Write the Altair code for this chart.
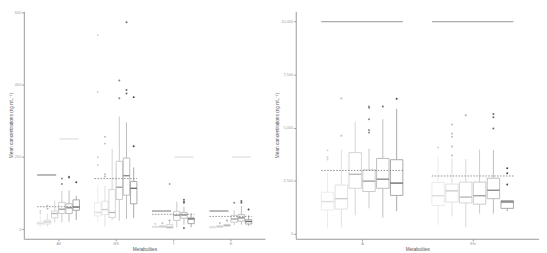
import altair as alt
import pandas as pd

groups = ["1", "2", "3", "4", "5", "6"]

# ---------------- left panel ----------------
left_metabolites = ["All", "BS", "T", "E"]
left_lo  = [5, 7, 18, 18, 20, 25,    20, 7, 25, 23, 28, 31,    3, 3, 2, 5, 12, 5,     2, 3, 6, 11, 12, 9]
left_q1  = [12, 14, 31, 43, 43, 52,  36, 40, 32, 82, 94, 70,   5, 5, 3, 24, 30, 15,   3, 5, 9, 19, 22, 14]
left_med = [16, 20, 43, 55, 59, 61,  46, 54, 46, 116, 148, 113, 6, 7, 5, 38, 39, 28,  5, 7, 10, 28, 31, 21]
left_q3  = [20, 25, 50, 74, 70, 81,  73, 77, 110, 188, 197, 132, 8, 9, 12, 49, 46, 31, 7, 9, 12, 38, 40, 26]
left_hi  = [34, 43, 79, 106, 107, 92, 122, 120, 222, 312, 296, 171, 10, 11, 20, 76, 62, 42, 9, 12, 15, 52, 64, 38]
left_outliers = [
    [43, 50], [56, 65], [], [125, 140], [143, 145], [130],
    [178, 199, 380, 538], [146, 152, 237, 256], [], [363, 412], [376, 386, 574], [230, 366],
    [15], [16], [24, 125], [], [3, 73, 76, 81], [],
    [], [17], [24], [73], [73, 78], [54],
]
# reference lines per metabolite (None = not drawn)
left_dark = [150, None, 50, 50]
left_light = [250, None, 200, 200]
left_dash = [62, 140, 41, 35]
left_ticks = [0, 200, 400, 600]
left_domain = [-27, 604]

# ---------------- right panel ----------------
right_metabolites = ["A", "Ele"]
right_lo  = [243, 303, 872, 1193, 761, 1069,     413, 807, 303, 945, 945, 1055]
right_q1  = [1115, 1160, 2138, 1986, 2138, 1803, 1330, 1495, 1450, 1390, 1651, 1193]
right_med = [1514, 1651, 2798, 2477, 2569, 2385, 1789, 2018, 1725, 1789, 2046, 1495]
right_q3  = [1954, 2294, 3821, 3009, 3546, 3486, 2413, 2339, 2431, 2431, 2615, 1560]
right_hi  = [2872, 3972, 5275, 4005, 5394, 5885, 3624, 3546, 3514, 3959, 3945, 1560]
right_outliers = [
    [3500, 3606, 3927], [4615, 6376], [], [4771, 4890, 5394, 5931, 5991], [5991], [6358],
    [4064], [3683, 4110, 4569, 4725, 5151], [5578], [], [4954, 5486, 5642], [2321, 2844, 3087],
]
right_top = [10000, 10000]
right_dash = [2980, 2720]
right_ticks = [0, 2500, 5000, 7500, 10000]
right_domain = [-240, 10480]

box_colors = ["#ececec", "#e2e2e2", "#d6d6d6", "#cacaca", "#bdbdbd", "#a9a9a9"]
med_colors = ["#dddddd", "#cdcdcd", "#b9b9b9", "#a2a2a2", "#8c8c8c", "#6e6e6e"]
out_colors = ["#d2d2d2", "#bcbcbc", "#a6a6a6", "#8a8a8a", "#6a6a6a", "#474747"]

YTITLE = "Mean concentrations (ng mL\u207b\u00b9)"
H = 230

# dodge layout in category units: 8 slots per metabolite, 6 boxes of 0.9 slot
SLOTS = 8
BOX_W = 0.9
OUTER = 1.85          # from panel edge to first box
SPAN = 5 + BOX_W      # first box start to last box end


def make_panel(mets, lo, q1, med, q3, hi, outliers, refs, lines, ticks, domain, width):
    rows, orows, lrows = [], [], []
    k = 0
    for i, m in enumerate(mets):
        start = OUTER + SLOTS * i
        for j, g in enumerate(groups):
            x0 = start + j
            rows.append(dict(grp=g, x0=x0, x1=x0 + BOX_W, xc=x0 + BOX_W / 2,
                             lo=lo[k], q1=q1[k], med=med[k], q3=q3[k], hi=hi[k]))
            for v in outliers[k]:
                orows.append(dict(grp=g, xc=x0 + BOX_W / 2, val=v))
            k += 1
        for name, (f0, f1) in lines.items():
            v = refs[name][i]
            if v is not None:
                lrows.append(dict(kind=name, a=start + f0 * SPAN, b=start + f1 * SPAN, val=v))
    df = pd.DataFrame(rows)
    dfo = pd.DataFrame(orows)
    dfl = pd.DataFrame(lrows)

    total = OUTER * 2 + SLOTS * (len(mets) - 1) + SPAN
    centers = [OUTER + SLOTS * i + SPAN / 2 for i in range(len(mets))]
    names = "[" + ",".join(f"'{m}'" for m in mets) + "]"
    xscale = alt.Scale(domain=[0, total], nice=False, zero=False)
    yscale = alt.Scale(domain=domain, nice=False, zero=False)
    xaxis = alt.Axis(title="Metabolites", labelAngle=0, labelPadding=1, titlePadding=1,
                     values=centers,
                     labelExpr=f"{names}[round((datum.value - {centers[0]}) / {SLOTS})]")
    yaxis = alt.Axis(title=YTITLE, values=ticks, labelPadding=1, titlePadding=1)

    def X(f):
        return alt.X(f, scale=xscale, axis=xaxis)

    def Y(f):
        return alt.Y(f, scale=yscale, axis=yaxis)

    def col(rng):
        return alt.Color("grp:N", sort=groups, scale=alt.Scale(domain=groups, range=rng), legend=None)

    base = alt.Chart(df)
    whisk = base.mark_rule(strokeWidth=1).encode(
        x=X("xc:Q"), y=Y("lo:Q"), y2="hi:Q", color=col(box_colors))
    box = base.mark_bar(fill="white", strokeWidth=1).encode(
        x=X("x0:Q"), x2="x1:Q", y=Y("q1:Q"), y2="q3:Q",
        stroke=alt.Stroke("grp:N", sort=groups, scale=alt.Scale(domain=groups, range=box_colors), legend=None))
    medl = base.mark_rule(strokeWidth=1.4).encode(
        x=X("x0:Q"), x2="x1:Q", y=Y("med:Q"), color=col(med_colors))
    outl = alt.Chart(dfo).mark_circle(size=4, opacity=1).encode(
        x=X("xc:Q"), y=Y("val:Q"), color=col(out_colors))

    layers = [whisk, box, medl, outl]
    for name in lines:
        color, width_, dash = styles[name]
        mk = dict(color=color, strokeWidth=width_)
        if dash:
            mk["strokeDash"] = dash
        layers.append(
            alt.Chart(dfl).transform_filter(alt.datum.kind == name).mark_rule(**mk).encode(
                x=X("a:Q"), x2="b:Q", y=Y("val:Q")))
    return alt.layer(*layers).resolve_scale(color="independent").properties(width=width, height=H)


styles = {
    "dark": ("#8a8a8a", 1.2, None),
    "light": ("#e4e4e4", 1.5, None),
    "dash": ("#858585", 0.9, [1.5, 1.5]),
    "top": ("#ababab", 1.3, None),
}

left = make_panel(
    left_metabolites, left_lo, left_q1, left_med, left_q3, left_hi, left_outliers,
    {"dark": left_dark, "light": left_light, "dash": left_dash},
    {"dark": (0, 0.45), "light": (0.53, 0.98), "dash": (0, 1)},
    left_ticks, left_domain, 244)

right = make_panel(
    right_metabolites, right_lo, right_q1, right_med, right_q3, right_hi, right_outliers,
    {"top": right_top, "dash": right_dash},
    {"top": (0, 1), "dash": (0, 1)},
    right_ticks, right_domain, 246)

chart = alt.hconcat(left, right, spacing=9).properties(
    padding={"left": 0, "top": 1, "right": 0, "bottom": 0}
).configure_view(stroke=None).configure_axis(
    grid=False,
    domainColor="#9a9a9a", domainWidth=1,
    tickColor="#9a9a9a", tickSize=2, tickWidth=1,
    labelColor="#9d9d9d", labelFontSize=4, labelFont="Liberation Sans",
    titleColor="#555555", titleFontSize=4.8, titleFont="Liberation Sans", titleFontWeight="normal",
)

chart.save("out.html", embed_options={"renderer": "svg", "actions": False})
